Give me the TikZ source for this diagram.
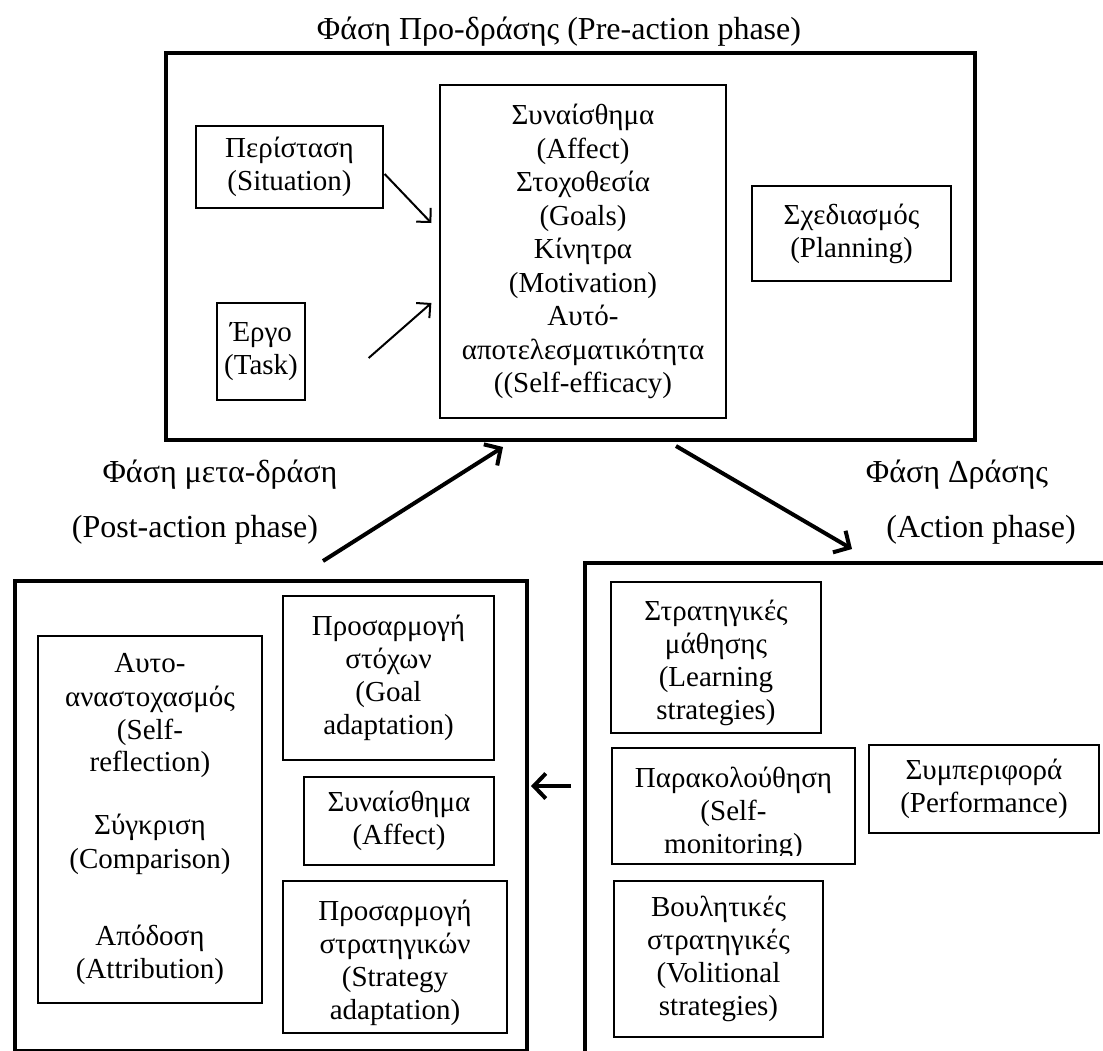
\documentclass[tikz,border=0pt]{standalone}
\usepackage{fontspec}
\setmainfont{Liberation Serif}
\usetikzlibrary{arrows.meta,calc}

\begin{document}
\begin{tikzpicture}[x=1pt,y=-1pt,
  phasebox/.style={draw, line width=4pt, inner sep=0pt},
  box/.style={draw, line width=1.3pt, inner sep=0pt, align=center,
              font=\fontsize{29}{33}\selectfont},
  boxtext/.style={inner sep=0pt, align=center, font=\fontsize{29}{33}\selectfont},
  phasetext/.style={inner sep=0pt, font=\fontsize{32}{36}\selectfont},
  bigarrow/.style={line width=4pt, -{Straight Barb[length=12pt,width=25pt]}},
  smallarrow/.style={line width=2pt, -{Straight Barb[length=10pt,width=20pt]}}]

\useasboundingbox (0,0) rectangle (1103,1050);
\fill[white] (0,0) rectangle (1103,1050);
\clip (0,0) rectangle (1103,1050);

% ---------- pre-action phase ----------
\node[phasetext] (pretitle) at (559,32) {Φάση Προ-δράσης (Pre-action phase)};
\node[phasebox, minimum width=809pt, minimum height=387pt] (pre) at (570.5,246.5) {};

\node[box, minimum width=187pt, minimum height=82pt] (sit) at (289.5,167)
  {Περίσταση\\(Situation)};
\node[box, minimum width=88pt, minimum height=97pt] (task) at (261,351.5)
  {Έργο\\(Task)};
\node[box, minimum width=286pt, minimum height=333pt,
      font=\fontsize{29}{33.5}\selectfont] (cent) at (583,251.5)
  {Συναίσθημα\\(Affect)\\Στοχοθεσία\\(Goals)\\Κίνητρα\\(Motivation)\\Αυτό-\\αποτελεσματικότητα\\((Self-efficacy)};
\node[box, minimum width=199pt, minimum height=95pt] (plan) at (851.5,233.5)
  {Σχεδιασμός\\(Planning)};

\draw[smallarrow] ($(sit.east)+(1,7)$) -- ($(cent.west)+(-8,-28.5)$);
\draw[smallarrow] ($(task.east)+(63,6.5)$) -- ($(cent.west)+(-8,51.5)$);

% ---------- phase captions ----------
\node[phasetext] (posttitle) at (220,475) {Φάση μετα-δράση};
\node[phasetext] (postsub) at (195,530) {(Post-action phase)};
\node[phasetext] (acttitle) at (957,475) {Φάση Δράσης};
\node[phasetext] (actsub) at (981,530) {(Action phase)};

% ---------- post-action phase ----------
\node[phasebox, minimum width=512pt, minimum height=470pt] (post) at (271,816) {};
\node[box, minimum width=224pt, minimum height=367pt] (refl) at (150,819.5)
  {Αυτο-\\αναστοχασμός\\(Self-\\reflection)\\[30pt]Σύγκριση\\(Comparison)\\[45pt]Απόδοση\\(Attribution)};
\node[box, minimum width=211pt, minimum height=164pt] (goal) at (388.5,678)
  {Προσαρμογή\\στόχων\\(Goal\\adaptation)};
\node[box, minimum width=190pt, minimum height=88pt] (affb) at (399,821)
  {Συναίσθημα\\(Affect)};
\node[box, minimum width=224pt, minimum height=152pt] (strat) at (395,957) {};
\node[boxtext] (strattext) at ($(strat.center)+(0,6)$)
  {Προσαρμογή\\στρατηγικών\\(Strategy\\adaptation)};

% ---------- action phase ----------
\node[phasebox, minimum width=545pt, minimum height=517pt] (act) at (857.5,821.5) {};
\node[box, minimum width=210pt, minimum height=151pt] (learn) at (716,657.5) {};
\node[boxtext] (learntext) at ($(learn.center)+(0,5)$)
  {Στρατηγικές\\μάθησης\\(Learning\\strategies)};
\node[box, minimum width=243pt, minimum height=116pt] (mon) at (733.5,806) {};
\begin{scope}
  \clip (612,748) rectangle (855,855);
  \node[boxtext, anchor=north] (montext) at ($(mon.north)+(0,19)$)
    {Παρακολούθηση\\(Self-\\monitoring)};
\end{scope}
\node[box, minimum width=230pt, minimum height=88pt] (perf) at (984,789)
  {Συμπεριφορά\\(Performance)};
\node[box, minimum width=209pt, minimum height=156pt] (vol) at (718.5,959)
  {Βουλητικές\\στρατηγικές\\(Volitional\\strategies)};

% ---------- cycle arrows ----------
\draw[bigarrow] ($(post.north)+(52,-18)$) -- ($(pre.south)+(-67.5,5)$);
\draw[bigarrow] ($(pre.south)+(105.5,4)$) -- ($(act.north)+(-5.5,-12)$);
\draw[bigarrow] ($(act.west)+(-12,-35.5)$) -- ($(post.east)+(2,-30)$);

\end{tikzpicture}
\end{document}
